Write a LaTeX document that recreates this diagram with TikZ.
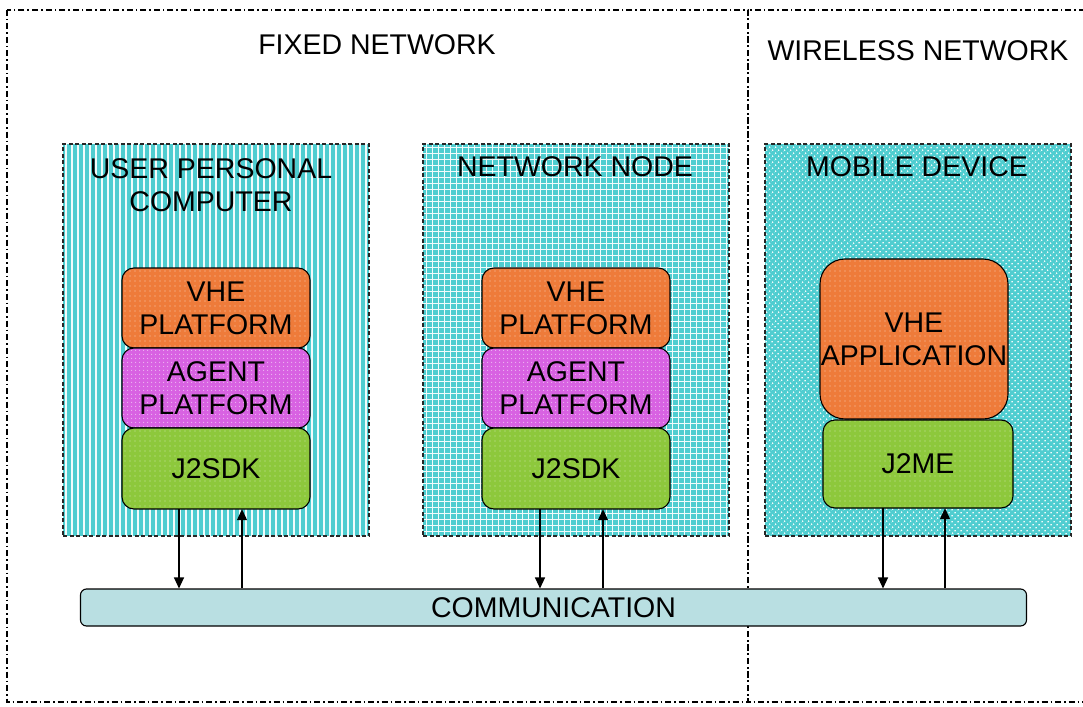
\documentclass[tikz,border=0pt]{standalone}
\usepackage{fontspec}
\setmainfont{Liberation Sans}
\usetikzlibrary{patterns.meta,calc,arrows.meta}

\definecolor{hostcyan}{HTML}{4FCDD0}
\definecolor{hoststripe}{HTML}{F2FBFB}
\definecolor{vheorange}{HTML}{EE7B3A}
\definecolor{agentmag}{HTML}{D862E2}
\definecolor{sdkgreen}{HTML}{8DC83C}
\definecolor{commblue}{HTML}{B9DFE2}

\tikzset{
  region/.style={draw=black, line width=1.1pt,
    dash pattern=on 6pt off 3pt on 1.5pt off 3pt},
  host/.style={minimum width=306pt, minimum height=392pt, inner sep=0pt},
  hostedge/.style={postaction={draw=black!85, line width=1.5pt, dash pattern=on 4pt off 2.5pt}},
  stripes/.style={fill=hostcyan,
    postaction={pattern={Lines[angle=90,distance=6pt,line width=1.6pt]}, pattern color=hoststripe}},
  grid/.style={fill=hostcyan,
    postaction={pattern={Lines[angle=0,distance=6pt,line width=1pt]}, pattern color=hoststripe},
    postaction={pattern={Lines[angle=90,distance=6pt,line width=1pt]}, pattern color=hoststripe}},
  speckle/.style={fill=hostcyan,
    postaction={pattern={Dots[distance=4pt,radius=1pt,angle=45]}, pattern color=hoststripe}},
  layer/.style={minimum width=188pt, inner sep=0pt, align=center, rounded corners=12pt},
  layeredge/.style={postaction={draw=black, line width=1.1pt}},
  vhe/.style={layer, fill=vheorange,
    postaction={pattern={Dots[distance=5pt,radius=0.6pt]}, pattern color=white!60!vheorange}},
  agent/.style={layer, fill=agentmag,
    postaction={pattern={Dots[distance=4pt,radius=0.7pt]}, pattern color=white!55!agentmag}},
  sdk/.style={layer, fill=sdkgreen,
    postaction={pattern={Dots[distance=5pt,radius=0.6pt]}, pattern color=white!55!sdkgreen}},
  title/.style={align=center, inner sep=0pt},
  arr/.style={draw=black, line width=1.2pt, -{Triangle[length=11pt,width=10pt]}}
}

\begin{document}
\fontsize{28.5}{33}\selectfont
\begin{tikzpicture}[x=1pt,y=-1pt]
\useasboundingbox (0,0) rectangle (1083,706);
\clip (0,0) rectangle (1083,706);

% network regions
\draw[region] (7,10) rectangle (748,702);
\draw[region] (748,10) rectangle (1095,702);
\node[title] (fixed) at (377,45) {FIXED NETWORK};
\node[title] (wireless) at (918,51) {WIRELESS NETWORK};

% hosts
\node[host, stripes, hostedge] (upc) at (216,340) {};
\node[host, grid, hostedge]    (nn)  at (576,340) {};
\node[host, speckle, hostedge] (md)  at (918,340) {};

\node[title] (upct) at (211,185) {USER PERSONAL\\COMPUTER};
\node[title] (nnt)  at (575,167) {NETWORK NODE};
\node[title] (mdt)  at (917,167) {MOBILE DEVICE};

% software stack on the personal computer
\node[vhe,   layeredge, minimum height=80pt] (upcv) at (216,308) {VHE\\PLATFORM};
\node[agent, layeredge, minimum height=80pt] (upca) at (216,388) {AGENT\\PLATFORM};
\node[sdk,   layeredge, minimum height=81pt] (upcj) at (216,468.5) {J2SDK};

% software stack on the network node
\node[vhe,   layeredge, minimum height=80pt] (nnv) at (576,308) {VHE\\PLATFORM};
\node[agent, layeredge, minimum height=80pt] (nna) at (576,388) {AGENT\\PLATFORM};
\node[sdk,   layeredge, minimum height=81pt] (nnj) at (576,468.5) {J2SDK};

% software stack on the mobile device
\node[vhe, rounded corners=25pt, layeredge, minimum height=160pt] (mdv) at (914,339) {VHE\\APPLICATION};
\node[sdk, layeredge, minimum width=190pt, minimum height=88pt] (mdj) at (918,464) {J2ME};

% communication bus
\node[draw=black, line width=1.1pt, fill=commblue, rounded corners=6pt,
      minimum width=946pt, minimum height=37pt, inner sep=0pt] (comm) at (553.5,607.5) {COMMUNICATION};

% links between the stacks and the bus
\path (upcj.south) ++(-37,0) coordinate (upcd) ++(63,0) coordinate (upcu);
\path (nnj.south)  ++(-36,0) coordinate (nnd)  ++(63,0) coordinate (nnu);
\path (mdj.south)  ++(-35,0) coordinate (mdd)  ++(62,0) coordinate (mdu);

\draw[arr] (upcd) -- (upcd |- comm.north);
\draw[arr] (upcu |- comm.north) -- (upcu);
\draw[arr] (nnd) -- (nnd |- comm.north);
\draw[arr] (nnu |- comm.north) -- (nnu);
\draw[arr] (mdd) -- (mdd |- comm.north);
\draw[arr] (mdu |- comm.north) -- (mdu);
\end{tikzpicture}
\end{document}
